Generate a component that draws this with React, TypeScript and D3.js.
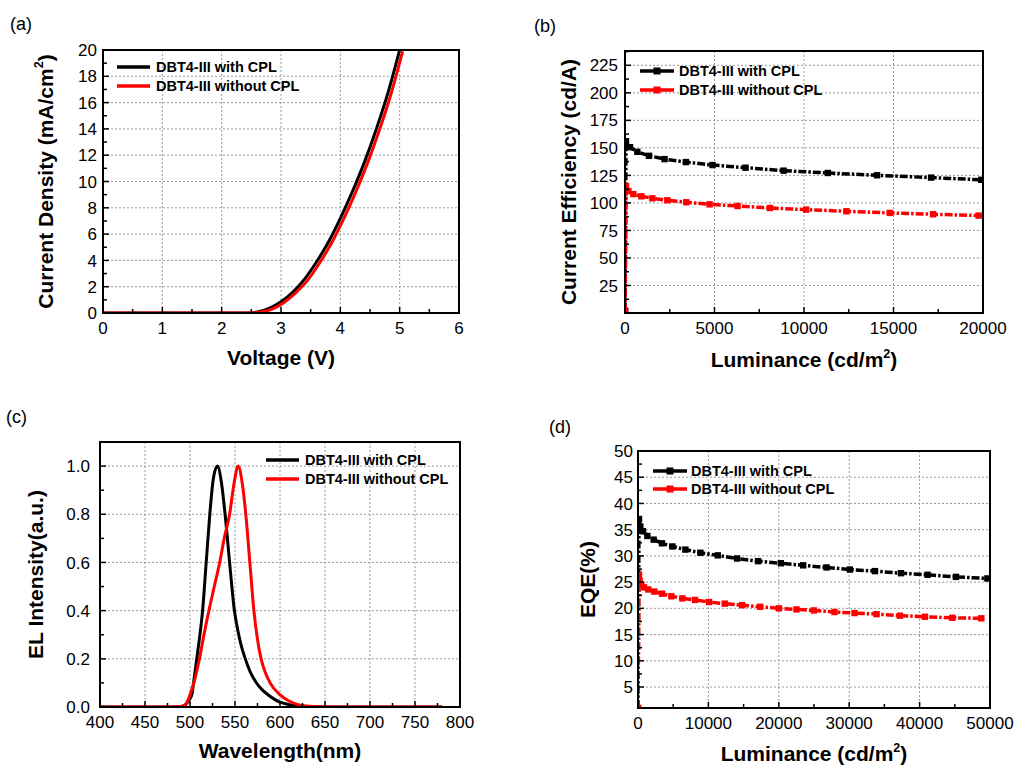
import React, { useEffect, useRef } from 'react';
import * as d3 from 'd3';

const BLACK = '#000000';
const RED = '#ff0000';
const LEGEND = ['DBT4-III with CPL', 'DBT4-III without CPL'];
const FONT = 'Arial, "Liberation Sans", sans-serif';

// (a) J-V
const jvVoltWith = [0, 1, 2, 2.4, 2.6, 2.8, 3.0, 3.2, 3.4, 3.6, 3.8, 4.0, 4.2, 4.4, 4.6, 4.8, 5.0];
const jvDensWith = [0, 0, 0, 0, 0.08, 0.35, 0.85, 1.6, 2.6, 3.9, 5.4, 7.2, 9.2, 11.4, 13.9, 16.7, 20];
const jvVoltWithout = [0, 1, 2, 2.45, 2.65, 2.85, 3.05, 3.25, 3.45, 3.65, 3.85, 4.05, 4.25, 4.45, 4.65, 4.85, 5.05];
const jvDensWithout = [0, 0, 0, 0, 0.07, 0.3, 0.8, 1.55, 2.5, 3.8, 5.3, 7.1, 9.1, 11.3, 13.8, 16.6, 19.9];

// (b) current efficiency
const ceLumWith = [5, 56, 280, 690, 1340, 2210, 3400, 4890, 6730, 8860, 11330, 14080, 17100, 19900];
const ceWith = [2, 156, 150.6, 146.4, 142.8, 139.8, 137.1, 134.4, 132, 129.3, 127.2, 125.1, 123, 121];
const ceLumWithout = [10, 56, 186, 465, 912, 1526, 2363, 3423, 4726, 6288, 8093, 10121, 12372, 14791, 17209, 19758];
const ceWithout = [1, 115.3, 110.8, 108, 106, 104.2, 102.4, 100.6, 98.7, 97.2, 95.4, 93.9, 92.4, 90.9, 89.7, 88.5];

// (c) EL spectra
const elWlWith = [400, 480, 490, 495, 500, 502, 505, 507.5, 510, 514, 518, 522, 526, 530.5, 535, 539, 544, 546.5, 549, 552, 555, 558, 561, 567, 573, 580, 587, 600, 610, 625, 640, 780];
const elWith = [0, 0, 0.002, 0.01, 0.035, 0.05, 0.13, 0.2, 0.27, 0.4, 0.6, 0.8, 0.95, 1.0, 0.93, 0.8, 0.6, 0.5, 0.41, 0.34, 0.285, 0.24, 0.205, 0.145, 0.105, 0.072, 0.05, 0.02, 0.01, 0.002, 0, 0];
const elWlWithout = [400, 480, 490, 495, 500, 505, 510.5, 515, 521, 527, 533, 538, 544, 549, 553.5, 558, 562, 566.5, 571, 575, 579, 584, 589, 600, 610, 620, 630, 640, 660, 780];
const elWithout = [0, 0, 0.002, 0.01, 0.05, 0.11, 0.2, 0.29, 0.4, 0.5, 0.6, 0.7, 0.8, 0.93, 1.0, 0.93, 0.8, 0.6, 0.4, 0.28, 0.2, 0.14, 0.1, 0.05, 0.025, 0.01, 0.004, 0.002, 0, 0];

// (d) EQE
const eqeLumWith = [5, 142, 332, 711, 1327, 2227, 3412, 4882, 6730, 8863, 11327, 14076, 17062, 20284, 23460, 26777, 30095, 33649, 37346, 41137, 45166, 49621];
const eqeWith = [1, 37.0, 35.6, 34.7, 33.8, 33.1, 32.4, 31.8, 31.2, 30.6, 30.1, 29.5, 29.0, 28.6, 28.2, 27.8, 27.4, 27.1, 26.7, 26.4, 26.0, 25.7];
const eqeLumWithout = [5, 142, 237, 474, 853, 1469, 2322, 3412, 4739, 6303, 8104, 10095, 12322, 14787, 17346, 20000, 22512, 24976, 27915, 30758, 33886, 37204, 40758, 44645, 48768];
const eqeWithout = [1, 26.4, 25.2, 24.5, 24.0, 23.6, 23.2, 22.8, 22.3, 21.9, 21.6, 21.2, 20.9, 20.6, 20.3, 20.0, 19.8, 19.6, 19.3, 19.1, 18.9, 18.6, 18.4, 18.2, 18.1];

const panels = [
  {
    id: 'a', label: '(a)', lx: 10, ly: 30,
    box: { l: 103, r: 459, t: 50, b: 313 },
    xDomain: [0, 6], yDomain: [0, 20],
    xMajor: d3.range(0, 6.01, 1), xMinor: d3.range(0, 6.01, 0.5),
    yMajor: d3.range(0, 20.01, 2), yMinor: d3.range(0, 20.01, 1),
    yFmt: (v) => String(v), yLabelGap: 6,
    xTitle: ['Voltage (V)'], xTitleY: 365,
    yTitle: ['Current Density (mA/cm', '2', ')'], yTitleX: 45,
    curve: d3.curveMonotoneX, markers: false,
    series: [
      { x: jvVoltWith, y: jvDensWith, color: BLACK },
      { x: jvVoltWithout, y: jvDensWithout, color: RED },
    ],
    legend: { x1: 117, x2: 150, y: 67, dy: 19, tx: 156 },
  },
  {
    id: 'b', label: '(b)', lx: 534, ly: 32,
    box: { l: 625, r: 983, t: 51, b: 313 },
    xDomain: [0, 20000], yDomain: [0, 238],
    xMajor: d3.range(0, 20001, 5000), xMinor: d3.range(0, 20001, 2500),
    yMajor: d3.range(25, 226, 25), yMinor: d3.range(12.5, 238, 12.5),
    yFmt: (v) => String(v), yLabelGap: 7,
    xTitle: ['Luminance (cd/m', '2', ')'], xTitleY: 367,
    yTitle: ['Current Efficiency (cd/A)'], yTitleX: 568,
    curve: d3.curveLinear, markers: true,
    series: [
      { x: ceLumWith, y: ceWith, color: BLACK },
      { x: ceLumWithout, y: ceWithout, color: RED },
    ],
    legend: { x1: 640, x2: 674, y: 71, dy: 19, tx: 679 },
  },
  {
    id: 'c', label: '(c)', lx: 6, ly: 423,
    box: { l: 100, r: 460, t: 442, b: 707 },
    xDomain: [400, 800], yDomain: [0, 1.1],
    xMajor: d3.range(400, 801, 50), xMinor: d3.range(400, 801, 25),
    yMajor: d3.range(0, 1.01, 0.2), yMinor: d3.range(0, 1.1, 0.1),
    yFmt: d3.format('.1f'), yLabelGap: 10,
    xTitle: ['Wavelength(nm)'], xTitleY: 758,
    yTitle: ['EL Intensity(a.u.)'], yTitleX: 35,
    curve: d3.curveMonotoneX, markers: false,
    series: [
      { x: elWlWith, y: elWith, color: BLACK },
      { x: elWlWithout, y: elWithout, color: RED },
    ],
    legend: { x1: 266, x2: 299, y: 460, dy: 19, tx: 305 },
  },
  {
    id: 'd', label: '(d)', lx: 549, ly: 433,
    box: { l: 638, r: 990, t: 451, b: 708 },
    xDomain: [0, 50000], yDomain: [1, 50],
    xMajor: d3.range(0, 50001, 10000), xMinor: d3.range(0, 50001, 5000),
    yMajor: d3.range(5, 50.1, 5), yMinor: d3.range(5, 50.1, 2.5),
    yFmt: (v) => String(v), yLabelGap: 5,
    xTitle: ['Luminance (cd/m', '2', ')'], xTitleY: 761,
    yTitle: ['EQE(%)'], yTitleX: 587,
    curve: d3.curveLinear, markers: true,
    series: [
      { x: eqeLumWith, y: eqeWith, color: BLACK },
      { x: eqeLumWithout, y: eqeWithout, color: RED },
    ],
    legend: { x1: 653, x2: 687, y: 471, dy: 18, tx: 691 },
  },
];

function addTitle(sel, parts, bigSize) {
  sel.append('tspan').text(parts[0]);
  if (parts.length > 1) {
    sel.append('tspan').attr('font-size', bigSize * 0.6).attr('dy', -bigSize * 0.45).text(parts[1]);
    sel.append('tspan').attr('dy', bigSize * 0.45).text(parts[2]);
  }
}

function drawPanel(root, p) {
  const { l, r, t, b } = p.box;
  const x = d3.scaleLinear().domain(p.xDomain).range([l, r]);
  const y = d3.scaleLinear().domain(p.yDomain).range([b, t]);
  const g = root.append('g').attr('font-family', FONT);

  g.append('text').attr('x', p.lx).attr('y', p.ly).attr('font-size', 18).text(p.label);

  // grid
  const grid = g.append('g').attr('stroke', '#9a9a9a').attr('stroke-width', 1).attr('stroke-dasharray', '2,2');
  grid.selectAll('line.gx').data(p.xMajor.filter((v) => v > p.xDomain[0] && v < p.xDomain[1]))
    .join('line').attr('class', 'gx')
    .attr('x1', (d) => x(d)).attr('x2', (d) => x(d)).attr('y1', t).attr('y2', b);
  grid.selectAll('line.gy').data(p.yMajor.filter((v) => v > p.yDomain[0] && v < p.yDomain[1]))
    .join('line').attr('class', 'gy')
    .attr('y1', (d) => y(d)).attr('y2', (d) => y(d)).attr('x1', l).attr('x2', r);

  // series
  const clipId = `clip-${p.id}`;
  g.append('clipPath').attr('id', clipId).append('rect')
    .attr('x', l).attr('y', t).attr('width', r - l).attr('height', b - t);
  const plot = g.append('g').attr('clip-path', `url(#${clipId})`);
  p.series.forEach((s) => {
    const pts = s.x.map((xv, i) => [xv, s.y[i]]);
    const line = d3.line().x((d) => x(d[0])).y((d) => y(d[1])).curve(p.curve);
    plot.append('path').attr('d', line(pts)).attr('fill', 'none')
      .attr('stroke', s.color).attr('stroke-width', p.markers ? 3.5 : 3)
      .attr('stroke-dasharray', p.markers ? '8,2,2.5,2' : null);
    if (p.markers) {
      plot.selectAll(null).data(pts).join('rect')
        .attr('x', (d) => x(d[0]) - 3.2).attr('y', (d) => y(d[1]) - 3.2)
        .attr('width', 6.4).attr('height', 6.4).attr('fill', s.color);
    }
  });

  // ticks (inward)
  const ticks = g.append('g').attr('stroke', '#000').attr('stroke-width', 1.5);
  const isMajor = (arr, v) => arr.some((m) => Math.abs(m - v) < 1e-9);
  ticks.selectAll('line.tx').data(p.xMinor).join('line').attr('class', 'tx')
    .attr('x1', (d) => x(d)).attr('x2', (d) => x(d))
    .attr('y1', b).attr('y2', (d) => b - (isMajor(p.xMajor, d) ? 6 : 4));
  ticks.selectAll('line.ty').data(p.yMinor.filter((v) => v >= p.yDomain[0] && v <= p.yDomain[1]))
    .join('line').attr('class', 'ty')
    .attr('y1', (d) => y(d)).attr('y2', (d) => y(d))
    .attr('x1', l).attr('x2', (d) => l + (isMajor(p.yMajor, d) ? 6 : 4));

  // frame
  g.append('rect').attr('x', l).attr('y', t).attr('width', r - l).attr('height', b - t)
    .attr('fill', 'none').attr('stroke', '#000').attr('stroke-width', 2);

  // tick labels
  g.selectAll('text.xl').data(p.xMajor).join('text').attr('class', 'xl')
    .attr('x', (d) => x(d)).attr('y', b + 21).attr('text-anchor', 'middle')
    .attr('font-size', 17).text((d) => String(d));
  g.selectAll('text.yl').data(p.yMajor).join('text').attr('class', 'yl')
    .attr('x', l - p.yLabelGap).attr('y', (d) => y(d)).attr('dy', '0.36em')
    .attr('text-anchor', 'end').attr('font-size', 17).text((d) => p.yFmt(d));

  // axis titles
  const xt = g.append('text').attr('x', (l + r) / 2).attr('y', p.xTitleY)
    .attr('text-anchor', 'middle').attr('font-size', 21).attr('font-weight', 'bold');
  addTitle(xt, p.xTitle, 21);
  const cy = (t + b) / 2;
  const yt = g.append('text').attr('transform', `translate(${p.yTitleX},${cy}) rotate(-90)`)
    .attr('dy', '0.36em').attr('text-anchor', 'middle').attr('font-size', 21).attr('font-weight', 'bold');
  addTitle(yt, p.yTitle, 21);

  // legend
  const lg = p.legend;
  p.series.forEach((s, i) => {
    const ly = lg.y + i * lg.dy;
    g.append('line').attr('x1', lg.x1).attr('x2', lg.x2).attr('y1', ly).attr('y2', ly)
      .attr('stroke', s.color).attr('stroke-width', 3.5);
    if (p.markers) {
      g.append('rect').attr('x', (lg.x1 + lg.x2) / 2 - 3.5).attr('y', ly - 3.5)
        .attr('width', 7).attr('height', 7).attr('fill', s.color);
    }
    g.append('text').attr('x', lg.tx).attr('y', ly + 5).attr('font-size', 14.5)
      .attr('font-weight', 'bold').text(LEGEND[i]);
  });
}

export default function App() {
  const ref = useRef(null);
  useEffect(() => {
    const svg = d3.select(ref.current);
    svg.selectAll('*').remove();
    panels.forEach((p) => drawPanel(svg, p));
  }, []);
  return (
    <svg ref={ref} width={1017} height={766}
      style={{ position: 'absolute', left: 0, top: 0, background: '#fff' }} />
  );
}
